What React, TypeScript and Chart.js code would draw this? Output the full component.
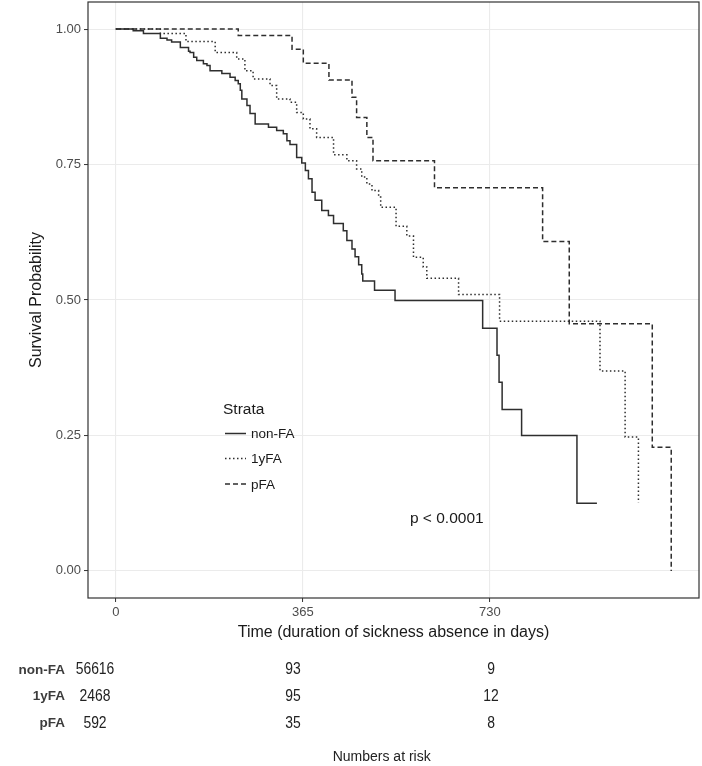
import React, { useEffect, useRef } from 'react';
import { Chart, registerables } from 'chart.js';

Chart.register(...registerables);

// ---------- data ----------
const strataNames = ['non-FA', '1yFA', 'pFA'];

const nonFaTime = [0, 34, 54, 87, 100, 109, 126, 142, 145, 152, 158, 171, 178, 184, 207, 223, 233, 239, 243, 246, 256, 262, 272, 298, 314, 327, 334, 340, 353, 363, 370, 376, 383, 389, 402, 415, 425, 444, 451, 461, 467, 474, 480, 482, 505, 545, 716, 744, 748, 754, 792, 900, 939];
const nonFaSurv = [1, 0.997, 0.992, 0.983, 0.98, 0.976, 0.966, 0.959, 0.957, 0.948, 0.942, 0.936, 0.933, 0.923, 0.918, 0.911, 0.905, 0.899, 0.887, 0.871, 0.859, 0.844, 0.825, 0.819, 0.813, 0.807, 0.794, 0.787, 0.763, 0.753, 0.739, 0.724, 0.699, 0.684, 0.665, 0.656, 0.641, 0.628, 0.61, 0.594, 0.58, 0.565, 0.548, 0.535, 0.518, 0.499, 0.448, 0.398, 0.348, 0.298, 0.25, 0.125, 0.125];

const oneYTime = [0, 87, 137, 194, 236, 252, 268, 301, 314, 340, 353, 366, 379, 392, 425, 451, 470, 480, 490, 500, 513, 517, 547, 568, 581, 600, 607, 669, 749, 945, 994, 1020];
const oneYSurv = [1, 0.992, 0.977, 0.957, 0.945, 0.923, 0.908, 0.896, 0.871, 0.865, 0.846, 0.834, 0.816, 0.8, 0.768, 0.757, 0.742, 0.727, 0.714, 0.702, 0.69, 0.671, 0.636, 0.618, 0.579, 0.561, 0.54, 0.51, 0.461, 0.369, 0.247, 0.126];

const pFaTime = [0, 239, 344, 366, 416, 461, 470, 490, 502, 622, 833, 885, 1047, 1084];
const pFaSurv = [1, 0.988, 0.963, 0.937, 0.906, 0.874, 0.837, 0.8, 0.757, 0.707, 0.608, 0.456, 0.228, 0];

const xTickValues = [0, 365, 730];
const yTickValues = [0, 0.25, 0.5, 0.75, 1];

const riskTimes = [0, 365, 730];
const riskNonFa = [56616, 93, 9];
const riskOneY = [2468, 95, 12];
const riskPFa = [592, 35, 8];

const pValueText = 'p < 0.0001';
const pValueX = 646;
const pValueY = 0.097;

const xTitle = 'Time (duration of sickness absence in days)';
const yTitle = 'Survival Probability';
const legendTitle = 'Strata';
const riskTitle = 'Numbers at risk';

// ---------- styling ----------
const FONT = '"Liberation Sans", Arial, Helvetica, sans-serif';
const LINE_COLOR = '#2e2e2e';
const dashes = [[], [1.5, 2.5], [5, 3]];

const toPoints = (t: number[], s: number[]) => t.map((v, i) => ({ x: v, y: s[i] }));

const overlayPlugin = {
  id: 'kmOverlay',
  beforeDraw(chart: any) {
    const ctx = chart.ctx;
    ctx.save();
    ctx.fillStyle = '#ffffff';
    ctx.fillRect(0, 0, chart.width, chart.height);
    ctx.restore();
  },
  afterDraw(chart: any) {
    const ctx = chart.ctx;
    const { left, top, right, bottom } = chart.chartArea;
    ctx.save();
    // panel border
    ctx.strokeStyle = '#333333';
    ctx.lineWidth = 1.2;
    ctx.setLineDash([]);
    ctx.strokeRect(left, top, right - left, bottom - top);

    // legend
    ctx.fillStyle = '#1a1a1a';
    ctx.textBaseline = 'middle';
    ctx.textAlign = 'left';
    ctx.font = `15.5px ${FONT}`;
    ctx.fillText(legendTitle, 223, 410);
    const itemY = [434.5, 459.5, 485];
    ctx.font = `13.5px ${FONT}`;
    strataNames.forEach((name, i) => {
      ctx.strokeStyle = LINE_COLOR;
      ctx.lineWidth = 1.5;
      ctx.setLineDash(dashes[i]);
      ctx.beginPath();
      ctx.moveTo(225, itemY[i] - 1);
      ctx.lineTo(246, itemY[i] - 1);
      ctx.stroke();
      ctx.setLineDash([]);
      ctx.fillStyle = '#1a1a1a';
      ctx.fillText(name, 251, itemY[i]);
    });

    // p-value
    const xs = chart.scales.x;
    const ys = chart.scales.y;
    ctx.font = `15.5px ${FONT}`;
    ctx.textAlign = 'center';
    ctx.fillStyle = '#1a1a1a';
    ctx.fillText(pValueText, xs.getPixelForValue(pValueX), ys.getPixelForValue(pValueY));

    // risk table
    const rs = chart.scales.xRisk;
    const rowY = [670, 696.7, 723.3];
    const riskRows = [riskNonFa, riskOneY, riskPFa];
    strataNames.forEach((name, i) => {
      ctx.font = `bold 13.5px ${FONT}`;
      ctx.textAlign = 'right';
      ctx.fillStyle = '#3c3c3c';
      ctx.fillText(name, 65, rowY[i]);
      riskRows[i].forEach((n, j) => {
        const px = rs.getPixelForValue(riskTimes[j]);
        ctx.save();
        ctx.translate(px, rowY[i]);
        ctx.scale(0.87, 1);
        ctx.font = `16px ${FONT}`;
        ctx.textAlign = 'center';
        ctx.fillStyle = '#222222';
        ctx.fillText(String(n), 0, 0);
        ctx.restore();
      });
    });
    ctx.font = `14px ${FONT}`;
    ctx.textAlign = 'center';
    ctx.fillStyle = '#222222';
    ctx.fillText(riskTitle, 381.7, 756.7);
    ctx.restore();
  },
};

export default function App() {
  const canvasRef = useRef<HTMLCanvasElement | null>(null);

  useEffect(() => {
    if (!canvasRef.current) return;
    const series = [
      toPoints(nonFaTime, nonFaSurv),
      toPoints(oneYTime, oneYSurv),
      toPoints(pFaTime, pFaSurv),
    ];
    const chart = new Chart(canvasRef.current, {
      type: 'line',
      data: {
        datasets: strataNames.map((name, i) => ({
          label: name,
          data: series[i],
          xAxisID: 'x',
          yAxisID: 'y',
          borderColor: LINE_COLOR,
          borderWidth: 1.5,
          borderDash: dashes[i],
          stepped: 'before' as const,
          pointRadius: 0,
          fill: false,
          tension: 0,
        })),
      },
      options: {
        animation: false,
        responsive: false,
        maintainAspectRatio: false,
        layout: { padding: { top: 2, right: 3, left: 0, bottom: 0 } },
        plugins: {
          legend: { display: false },
          tooltip: { enabled: false },
        },
        scales: {
          x: {
            type: 'linear',
            position: 'bottom',
            min: -54.2,
            max: 1138.2,
            afterBuildTicks: (axis: any) => {
              axis.ticks = xTickValues.map((v) => ({ value: v }));
            },
            afterFit: (axis: any) => {
              axis.height = 168;
              axis.paddingLeft = 0;
              axis.paddingRight = 0;
              axis.paddingTop = 0;
              axis.paddingBottom = 0;
            },
            border: { display: false },
            grid: {
              color: '#ebebeb',
              lineWidth: 1.1,
              drawTicks: true,
              tickLength: 4,
              tickColor: '#333333',
              tickWidth: 1,
            },
            ticks: {
              color: '#4d4d4d',
              font: { family: FONT, size: 13 },
              padding: 3,
              maxRotation: 0,
              autoSkip: false,
              callback: (v: any) => String(v),
            },
            title: {
              display: true,
              text: xTitle,
              color: '#1a1a1a',
              font: { family: FONT, size: 16 },
              padding: { top: 4, bottom: 123.4 },
            },
          },
          xRisk: {
            type: 'linear',
            axis: 'x',
            position: 'bottom',
            display: false,
            min: -12.9,
            max: 1113.4,
          },
          y: {
            type: 'linear',
            position: 'left',
            min: -0.05,
            max: 1.05,
            afterBuildTicks: (axis: any) => {
              axis.ticks = yTickValues.map((v) => ({ value: v }));
            },
            afterFit: (axis: any) => {
              axis.width = 88;
              axis.paddingLeft = 0;
              axis.paddingRight = 0;
              axis.paddingTop = 0;
              axis.paddingBottom = 0;
            },
            border: { display: false },
            grid: {
              color: '#ebebeb',
              lineWidth: 1.1,
              drawTicks: true,
              tickLength: 4,
              tickColor: '#333333',
              tickWidth: 1,
            },
            ticks: {
              color: '#4d4d4d',
              font: { family: FONT, size: 13 },
              padding: 3,
              autoSkip: false,
              callback: (v: any) => Number(v).toFixed(2),
            },
            title: {
              display: true,
              text: yTitle,
              color: '#1a1a1a',
              font: { family: FONT, size: 16 },
              padding: { top: 27, bottom: 0 },
            },
          },
        },
      } as any,
      plugins: [overlayPlugin],
    });
    return () => chart.destroy();
  }, []);

  return (
    <div style={{ position: 'absolute', left: 0, top: 0, width: 702, height: 766, background: '#ffffff' }}>
      <canvas ref={canvasRef} width={702} height={766} style={{ display: 'block' }} />
    </div>
  );
}
